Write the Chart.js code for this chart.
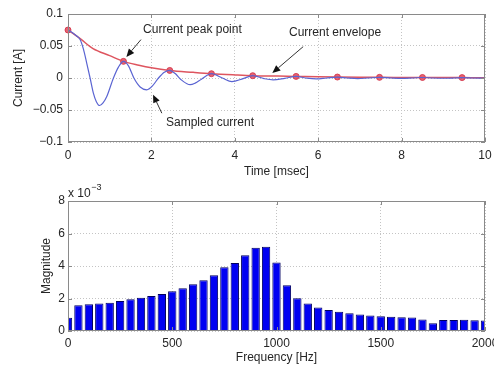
<!DOCTYPE html>
<html><head><meta charset="utf-8">
<script src="https://cdn.jsdelivr.net/npm/chart.js@4"></script>
<style>
html,body{margin:0;padding:0;background:#fff;}
#wrap{position:relative;width:494px;height:367px;overflow:hidden;background:#fff;}
.c{position:absolute;left:0;width:494px;}
</style></head><body>
<div id="wrap">
<div class="c" style="top:0;height:180px"><canvas id="topc"></canvas></div>
<div class="c" style="top:180px;height:187px"><canvas id="botc"></canvas></div>
</div>
<script>
// ---------- data: top panel ----------
const sampledTime = [0,0.1,0.2,0.29,0.37,0.45,0.53,0.61,0.68,0.76,0.84,0.93,1.09,1.21,1.33,1.45,1.58,1.73,1.89,2.03,2.17,2.31,2.44,2.57,2.7,2.93,3.05,3.2,3.44,3.7,3.93,4.2,4.43,4.7,4.92,5.2,5.47,5.7,5.95,6.2,6.46,6.7,6.95,7.2,7.47,7.75,8.0,8.25,8.5,8.75,9.0,9.25,9.45,9.7,10];
const sampledCurrent = [0.075,0.071,0.066,0.060,0.045,0.023,0.0,-0.024,-0.037,-0.043,-0.039,-0.029,0.0,0.017,0.026,0.019,0.0,-0.014,-0.0184,-0.012,0.0,0.009,0.0118,0.007,-0.002,-0.0105,-0.008,-0.002,0.0067,0.0,-0.0057,-0.001,0.0036,-0.001,-0.003,-0.0005,0.0025,0.0,-0.0015,0.0,0.0015,0.0,-0.0009,0.0,0.001,0.0,-0.0006,0.0,0.0008,0.0,-0.0004,0.0,0.0006,0.0,-0.0003];
const envTime = [0,0.3,0.6,1.0,1.33,1.7,2.0,2.44,3.0,3.44,4.0,4.43,5.0,5.47,6.0,6.46,7.0,7.47,8.0,8.5,9.0,9.45,10];
const envCurrent = [0.075,0.061,0.046,0.035,0.026,0.020,0.016,0.0118,0.0088,0.0067,0.0048,0.0036,0.0030,0.0025,0.0019,0.0015,0.0012,0.001,0.0009,0.0008,0.0007,0.0006,0.0005];
const peakTime = [0,1.33,2.44,3.44,4.43,5.47,6.46,7.47,8.5,9.45];
const peakCurrent = [0.075,0.026,0.0118,0.0067,0.0036,0.0025,0.0015,0.001,0.0008,0.0006];
const topXTicks = [0,2,4,6,8,10];
const topYTicks = [-0.1,-0.05,0,0.05,0.1];

// ---------- data: bottom panel ----------
const freqBins = [0,50,100,150,200,250,300,350,400,450,500,550,600,650,700,750,800,850,900,950,1000,1050,1100,1150,1200,1250,1300,1350,1400,1450,1500,1550,1600,1650,1700,1750,1800,1850,1900,1950,2000];
const magnitude = [0.82,1.58,1.64,1.70,1.74,1.85,1.95,2.05,2.15,2.28,2.44,2.63,2.87,3.12,3.43,3.92,4.18,4.66,5.13,5.19,4.22,2.81,2.02,1.70,1.45,1.30,1.19,1.09,1.01,0.95,0.91,0.88,0.85,0.83,0.71,0.48,0.67,0.67,0.70,0.66,0.64]; // x 10^-3
const botXTicks = [0,500,1000,1500,2000];
const botYTicks = [0,2,4,6,8];

// ---------- styling ----------
const FONT = "'Liberation Sans', Arial, Helvetica, sans-serif";
const TXT = '#262626';
const BOX = '#8a8a8a';
const GRID = '#c4c4c4';
const fnt = {family: FONT, size: 12};
const fmt = v => (v < 0 ? '\u2212' + String(-v) : String(v));

const framePlugin = {
  id: 'frame',
  afterDatasetsDraw(chart) {
    const {ctx, chartArea: a, scales} = chart;
    ctx.save();
    ctx.strokeStyle = BOX;
    ctx.lineWidth = 1;
    ctx.setLineDash([]);
    ctx.strokeRect(Math.round(a.left) + 0.5, Math.round(a.top) + 0.5,
                   Math.round(a.right - a.left) - 1, Math.round(a.bottom - a.top) - 1);
    const L = 4;
    ctx.beginPath();
    scales.x.ticks.forEach(t => {
      const px = Math.round(scales.x.getPixelForValue(t.value)) + 0.5;
      ctx.moveTo(px, a.bottom); ctx.lineTo(px, a.bottom - L);
      ctx.moveTo(px, a.top); ctx.lineTo(px, a.top + L);
    });
    scales.y.ticks.forEach(t => {
      const py = Math.round(scales.y.getPixelForValue(t.value)) + 0.5;
      ctx.moveTo(a.left, py); ctx.lineTo(a.left + L, py);
      ctx.moveTo(a.right, py); ctx.lineTo(a.right - L, py);
    });
    ctx.stroke();
    ctx.restore();
  }
};

function arrow(ctx, x1, y1, x2, y2) {
  const ang = Math.atan2(y2 - y1, x2 - x1);
  const hl = 8, hw = 3.5;
  const bx = x2 - hl * Math.cos(ang), by = y2 - hl * Math.sin(ang);
  ctx.beginPath();
  ctx.moveTo(x1, y1); ctx.lineTo(bx, by);
  ctx.strokeStyle = '#333'; ctx.lineWidth = 1; ctx.stroke();
  ctx.beginPath();
  ctx.moveTo(x2, y2);
  ctx.lineTo(bx + hw * Math.sin(ang), by - hw * Math.cos(ang));
  ctx.lineTo(bx - hw * Math.sin(ang), by + hw * Math.cos(ang));
  ctx.closePath();
  ctx.fillStyle = '#111'; ctx.fill();
}

const annoPlugin = {
  id: 'anno',
  afterDatasetsDraw(chart) {
    const {ctx, scales: {x, y}} = chart;
    const X = v => x.getPixelForValue(v), Y = v => y.getPixelForValue(v);
    ctx.save();
    ctx.font = '12px ' + FONT;
    ctx.fillStyle = TXT;
    ctx.textAlign = 'left';
    ctx.textBaseline = 'middle';
    ctx.fillText('Current peak point', X(1.80), Y(0.0757));
    ctx.fillText('Current envelope', X(5.30), Y(0.071));
    ctx.fillText('Sampled current', X(2.35), Y(-0.070));
    arrow(ctx, X(1.75), Y(0.060), X(1.40), Y(0.033));
    arrow(ctx, X(2.25), Y(-0.055), X(2.04), Y(-0.026));
    arrow(ctx, X(5.64), Y(0.049), X(4.90), Y(0.0078));
    ctx.restore();
  }
};

const expPlugin = {
  id: 'exp',
  afterDraw(chart) {
    const {ctx, chartArea: a} = chart;
    ctx.save();
    ctx.fillStyle = TXT;
    ctx.textBaseline = 'middle';
    ctx.textAlign = 'left';
    ctx.font = '12px ' + FONT;
    ctx.fillText('x 10', a.left, 13.5);
    const w = ctx.measureText('x 10').width;
    ctx.font = '9px ' + FONT;
    ctx.fillText('\u22123', a.left + w + 0.5, 8);
    ctx.restore();
  }
};

function setTicks(arr) { return s => { s.ticks = arr.map(v => ({value: v})); }; }
function fitX(h) { return s => { s.height = h; s.paddingLeft = 0; s.paddingRight = 0; }; }
function fitY(w) { return s => { s.width = w; s.paddingTop = 0; s.paddingBottom = 0; }; }

Chart.defaults.font.family = FONT;
Chart.defaults.color = TXT;

new Chart(document.getElementById('topc'), {
  type: 'line',
  data: {
    datasets: [
      {
        data: sampledTime.map((t, i) => ({x: t, y: sampledCurrent[i]})),
        borderColor: 'rgb(90,100,210)', borderWidth: 1.2, pointRadius: 0,
        cubicInterpolationMode: 'monotone', fill: false
      },
      {
        data: envTime.map((t, i) => ({x: t, y: envCurrent[i]})),
        borderColor: 'rgb(222,85,95)', borderWidth: 1.5, pointRadius: 0,
        cubicInterpolationMode: 'monotone', fill: false
      },
      {
        data: peakTime.map((t, i) => ({x: t, y: peakCurrent[i]})),
        showLine: false, pointStyle: 'circle', pointRadius: 3,
        pointBackgroundColor: 'rgba(225,60,80,0.8)', pointBorderColor: 'rgba(210,50,70,0.85)',
        pointBorderWidth: 1, clip: false
      }
    ]
  },
  options: {
    responsive: true, maintainAspectRatio: false, animation: false, devicePixelRatio: 1,
    layout: {padding: {top: 14, right: 9, left: 0, bottom: 0}},
    plugins: {legend: {display: false}, tooltip: {enabled: false}},
    events: [],
    scales: {
      x: {
        type: 'linear', min: 0, max: 10,
        afterBuildTicks: setTicks(topXTicks),
        afterFit: fitX(38),
        ticks: {font: fnt, color: TXT, padding: 6, maxRotation: 0, autoSkip: false, callback: v => fmt(v)},
        grid: {color: GRID, lineWidth: 1, drawTicks: false},
        border: {display: false, dash: [1, 2]},
        title: {display: true, text: 'Time [msec]', font: fnt, color: TXT, padding: {top: 0, bottom: 1}}
      },
      y: {
        type: 'linear', min: -0.1, max: 0.1,
        afterBuildTicks: setTicks(topYTicks),
        afterFit: fitY(68),
        ticks: {font: fnt, color: TXT, padding: 5, autoSkip: false, callback: v => fmt(v)},
        grid: {color: GRID, lineWidth: 1, drawTicks: false},
        border: {display: false, dash: [1, 2]},
        title: {display: true, text: 'Current [A]', font: fnt, color: TXT, padding: {top: 11, bottom: 0}}
      }
    }
  },
  plugins: [framePlugin, annoPlugin]
});

new Chart(document.getElementById('botc'), {
  type: 'bar',
  data: {
    datasets: [{
      data: freqBins.map((f, i) => ({x: f, y: magnitude[i]})),
      backgroundColor: '#0000f2', borderColor: '#000060', borderWidth: 1,
      barPercentage: 1.0, categoryPercentage: 0.8, clip: 0
    }]
  },
  options: {
    responsive: true, maintainAspectRatio: false, animation: false, devicePixelRatio: 1,
    layout: {padding: {top: 21, right: 9, left: 0, bottom: 0}},
    plugins: {legend: {display: false}, tooltip: {enabled: false}},
    events: [],
    scales: {
      x: {
        type: 'linear', min: 0, max: 2000, offset: false,
        afterBuildTicks: setTicks(botXTicks),
        afterFit: fitX(36),
        ticks: {font: fnt, color: TXT, padding: 5, maxRotation: 0, autoSkip: false, callback: v => String(v)},
        grid: {color: GRID, lineWidth: 1, drawTicks: false, offset: false},
        border: {display: false, dash: [1, 2]},
        title: {display: true, text: 'Frequency [Hz]', font: fnt, color: TXT, padding: {top: 0, bottom: 2}}
      },
      y: {
        type: 'linear', min: 0, max: 8,
        afterBuildTicks: setTicks(botYTicks),
        afterFit: fitY(68),
        ticks: {font: fnt, color: TXT, padding: 3, autoSkip: false, callback: v => String(v)},
        grid: {color: GRID, lineWidth: 1, drawTicks: false},
        border: {display: false, dash: [1, 2]},
        title: {display: true, text: 'Magnitude', font: fnt, color: TXT, padding: {top: 39, bottom: 0}}
      }
    }
  },
  plugins: [framePlugin, expPlugin]
});
</script>
</body></html>
